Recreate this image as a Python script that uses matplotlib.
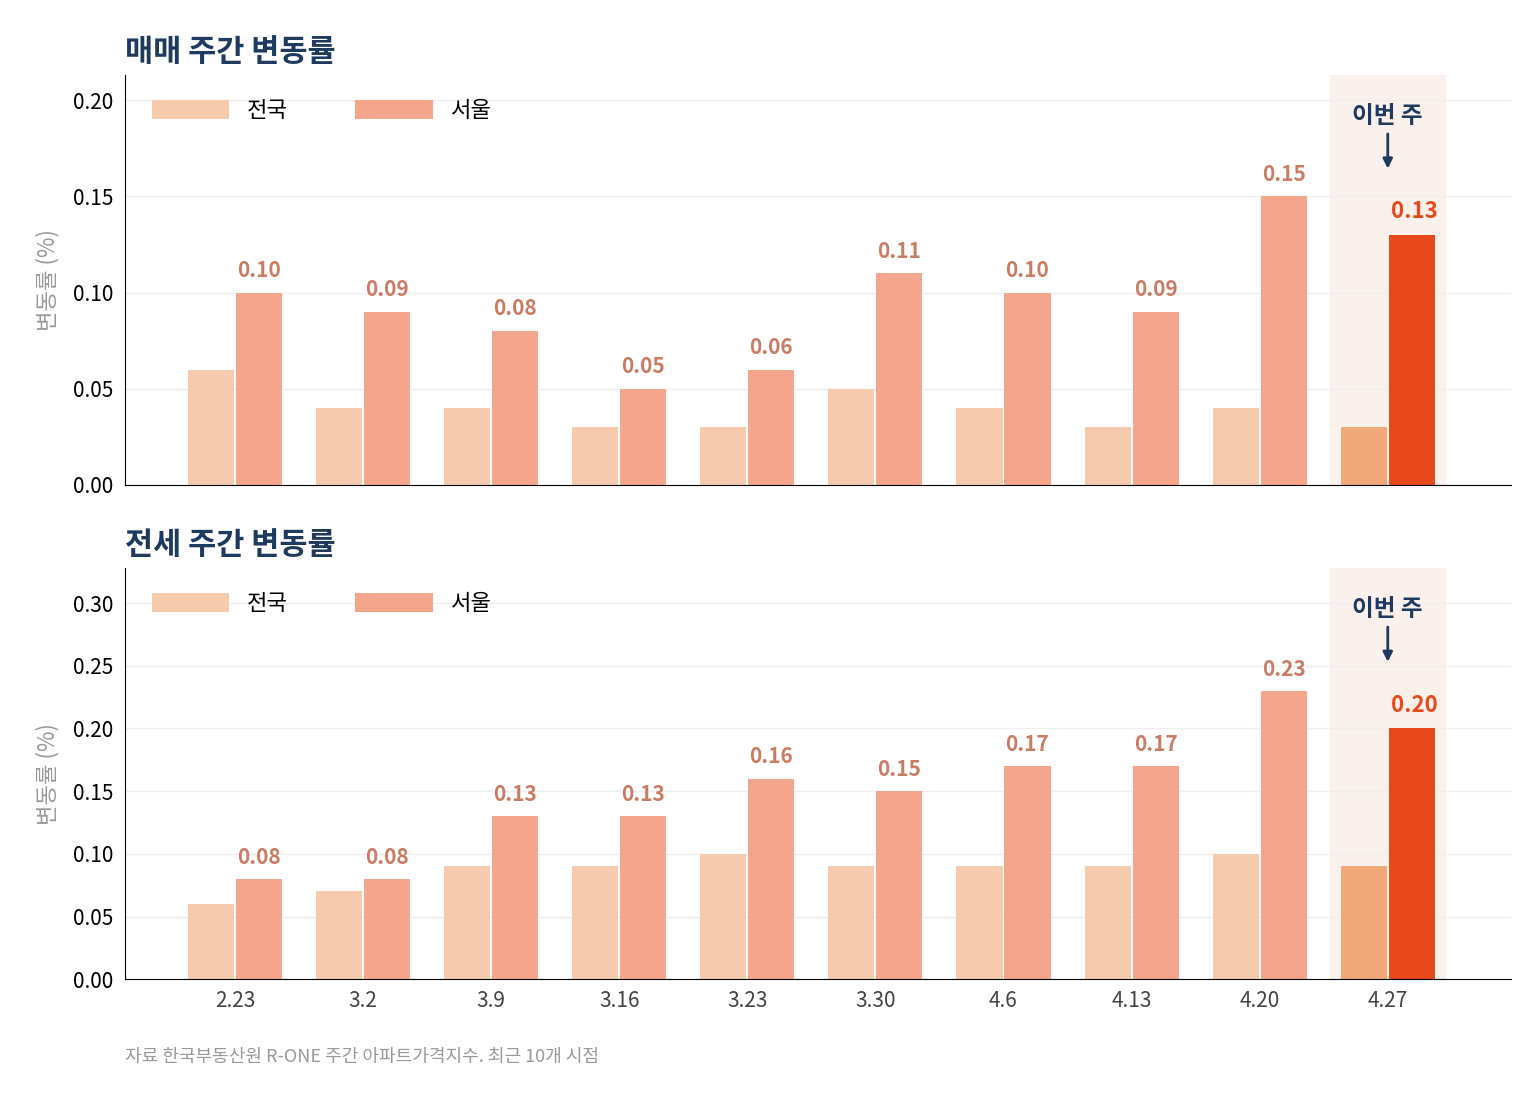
import matplotlib.pyplot as plt
import numpy as np

plt.rcParams['font.family'] = ['Noto Sans CJK KR', 'DejaVu Sans']

weeks = ['2.23', '3.2', '3.9', '3.16', '3.23', '3.30', '4.6', '4.13', '4.20', '4.27']
sale_nat = [0.06, 0.04, 0.04, 0.03, 0.03, 0.05, 0.04, 0.03, 0.04, 0.03]
sale_seoul = [0.10, 0.09, 0.08, 0.05, 0.06, 0.11, 0.10, 0.09, 0.15, 0.13]
rent_nat = [0.06, 0.07, 0.09, 0.09, 0.10, 0.09, 0.09, 0.09, 0.10, 0.09]
rent_seoul = [0.08, 0.08, 0.13, 0.13, 0.16, 0.15, 0.17, 0.17, 0.23, 0.20]

C_NAT = '#F6CBAD'
C_SEOUL = '#F4A58C'
C_NAT_HI = '#F0A878'
C_SEOUL_HI = '#E8491A'
C_LABEL = '#C97B63'
C_TITLE = '#1F3A5F'

fig = plt.figure(figsize=(15.4, 11.04), dpi=100)
ax1 = fig.add_axes([0.081, 0.5607, 0.9, 0.3713])
ax2 = fig.add_axes([0.081, 0.113, 0.9, 0.3725])

def draw(ax, nat, seoul, title, ymax, yticks, off, show_x):
    x = np.arange(len(weeks))
    w = 0.36
    n = len(weeks)
    ax.axvspan(n - 1 - 0.45, n - 1 + 0.45, color='#FAF1EC', zorder=0)
    cn = [C_NAT] * (n - 1) + [C_NAT_HI]
    cs = [C_SEOUL] * (n - 1) + [C_SEOUL_HI]
    ax.bar(x - 0.1875, nat, w, color=cn, zorder=2)
    ax.bar(x + 0.1875, seoul, w, color=cs, zorder=2)
    ax.bar([0], [0], color=C_NAT, label='전국')
    ax.bar([0], [0], color=C_SEOUL, label='서울')
    for i, v in enumerate(seoul):
        last = i == n - 1
        ax.text(x[i] + 0.1875 + (0.02 if last else 0), v + off, f'{v:.2f}', ha='center', va='bottom',
                fontsize=16 if last else 15, fontweight='bold',
                color=C_SEOUL_HI if last else C_LABEL)
    ax.set_xlim(-0.86, 9.96)
    ax.set_ylim(0, ymax)
    ax.set_yticks(yticks)
    ax.set_yticklabels([f'{t:.2f}' for t in yticks])
    ax.grid(axis='y', color='#EEEEEE', lw=1, zorder=0)
    ax.set_axisbelow(True)
    for s in ['top', 'right']:
        ax.spines[s].set_visible(False)
    ax.tick_params(length=0, labelsize=15, pad=8)
    ax.set_xticks(x)
    if show_x:
        ax.set_xticklabels(weeks, color='#444444')
    else:
        ax.set_xticklabels([])
    ax.set_ylabel('변동률 (%)', fontsize=16, color='#999999', labelpad=10)
    ax.set_title(title, loc='left', fontsize=22, fontweight='bold', color=C_TITLE, pad=10)
    ax.legend(loc='upper left', ncol=2, frameon=False, fontsize=16, handlelength=3.5,
              handleheight=0.9, columnspacing=3, bbox_to_anchor=(0.005, 0.99))
    ax.annotate('이번 주', xy=(n - 1, ymax * 0.765), xytext=(n - 1, ymax * 0.87),
                ha='center', va='bottom', fontsize=17, fontweight='bold', color=C_TITLE,
                arrowprops=dict(arrowstyle='-|>', color=C_TITLE, lw=2, mutation_scale=14))

draw(ax1, sale_nat, sale_seoul, '매매 주간 변동률', 0.213, [0, 0.05, 0.10, 0.15, 0.20], 0.006, False)
draw(ax2, rent_nat, rent_seoul, '전세 주간 변동률', 0.328, [0, 0.05, 0.10, 0.15, 0.20, 0.25, 0.30], 0.009, True)

fig.text(0.081, 0.038, '자료 한국부동산원 R-ONE 주간 아파트가격지수. 최근 10개 시점', fontsize=13, color='#999999')
fig.savefig('out.png', dpi=100)
